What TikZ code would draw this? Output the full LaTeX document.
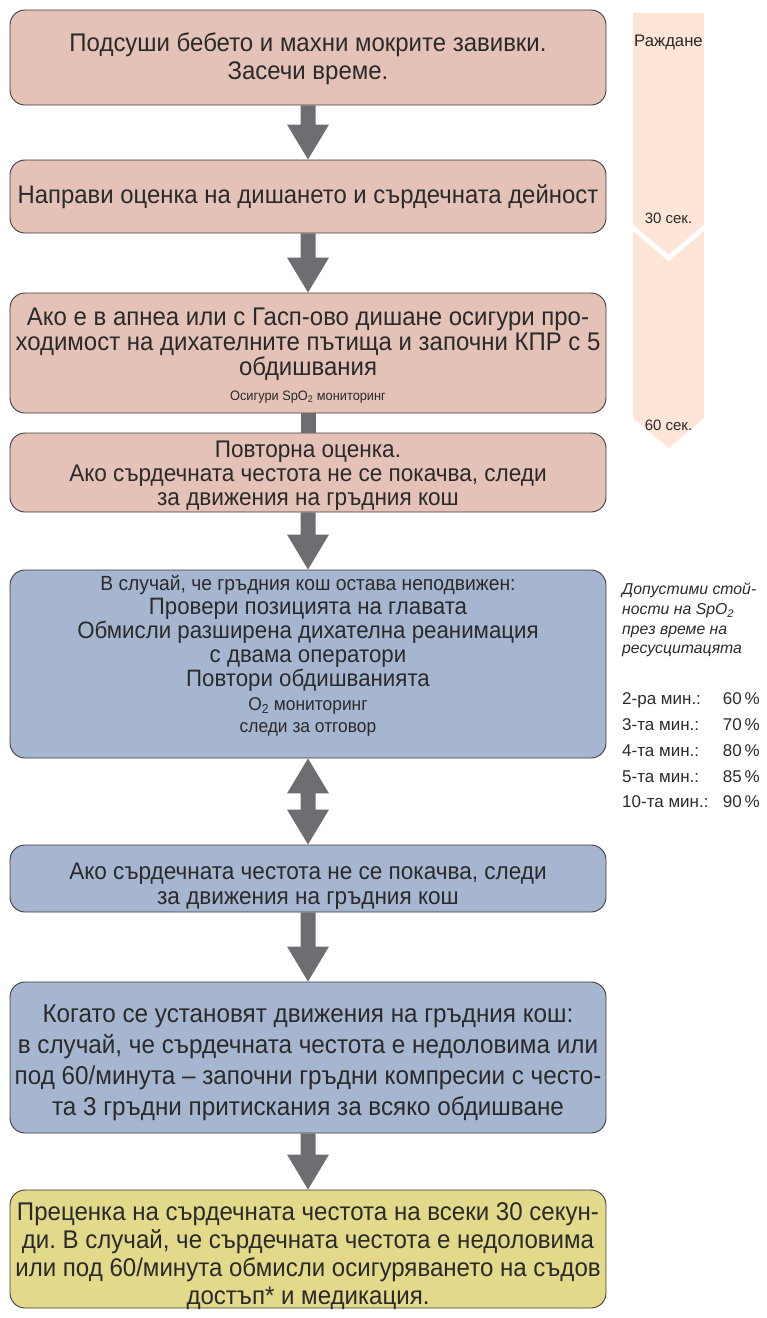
\documentclass[tikz,border=0pt]{standalone}
\usepackage{fontspec}
\setmainfont{Liberation Sans}
\newfontfamily\condf[FakeStretch=0.94]{Liberation Sans}
\usetikzlibrary{calc}
\frenchspacing
\definecolor{pinkbox}{HTML}{E4C2B7}
\definecolor{bluebox}{HTML}{A7B6D0}
\definecolor{yellowbox}{HTML}{E2D98B}
\definecolor{arrowgray}{HTML}{6D6E71}
\definecolor{bordercol}{HTML}{3C3C3C}
\definecolor{timecol}{HTML}{FDE5D7}
\definecolor{txtcol}{HTML}{2A2A2A}
\tikzset{
  flowbox/.style={draw=bordercol, line width=0.9pt, rounded corners=15pt, minimum width=596pt, inner sep=0pt},
  flowtext/.style={align=center, inner sep=0pt, text=txtcol},
  sidetext/.style={inner sep=0pt, text=txtcol, font=\fontsize{15}{18}\selectfont},
  tabtext/.style={inner sep=0pt, text=txtcol, font=\fontsize{17}{20}\selectfont},
}
\newcommand\flowarrow[2]{%
  \fill[arrowgray] ($(#1.south)+(-7.5,0)$) -- ($(#2.north)+(-7.5,-35)$) -- ($(#2.north)+(-21,-35)$) -- (#2.north) -- ($(#2.north)+(21,-35)$) -- ($(#2.north)+(7.5,-35)$) -- ($(#1.south)+(7.5,0)$) -- cycle;}
\begin{document}
\frenchspacing
\begin{tikzpicture}[x=1pt,y=-1pt]
\useasboundingbox (0,0) rectangle (767,1318);
% timeline
\fill[timecol] (633,13) -- (704,13) -- (704,418) -- (668.5,448) -- (633,418) -- cycle;
\draw[white, line width=5pt] (631,226) -- (668.5,258) -- (706,226);
\node[sidetext, font=\fontsize{16.7}{18}\selectfont] (tbirth) at (668.5,42) {Раждане};
\node[sidetext] (t30) at (668.5,218) {30 сек.};
\node[sidetext] (t60) at (668.5,425) {60 сек.};
% boxes
\node[flowbox, fill=pinkbox, minimum height=95pt] (b1) at (308,57.5) {};
\node[flowbox, fill=pinkbox, minimum height=73pt] (b2) at (308,196.5) {};
\node[flowbox, fill=pinkbox, minimum height=120pt] (b3) at (308,353) {};
\node[flowbox, fill=pinkbox, minimum height=79pt] (b4) at (308,472.5) {};
\node[flowbox, fill=bluebox, minimum height=188pt] (b5) at (308,664) {};
\node[flowbox, fill=bluebox, minimum height=67pt] (b6) at (308,878.5) {};
\node[flowbox, fill=bluebox, minimum height=151pt] (b7) at (308,1057.5) {};
\node[flowbox, fill=yellowbox, minimum height=118pt] (b8) at (308,1249) {};
% texts
\node[flowtext, font=\condf\fontsize{25.5}{28}\selectfont] (t1) at (308,59) {Подсуши бебето и махни мокрите завивки.\\Засечи време.};
\node[flowtext, font=\condf\fontsize{25.4}{28}\selectfont] (t2) at (308,197) {Направи оценка на дишането и сърдечната дейност};
\node[flowtext, font=\condf\fontsize{25.5}{25}\selectfont] (t3) at (308,355.5) {Ако е в апнеа или с Гасп-ово дишане осигури про-\\ходимост на дихателните пътища и започни КПР с 5\\обдишвания\\{\fontsize{13.6}{15}\selectfont Осигури SpO\textsubscript{2} мониторинг}};
\node[flowtext, font=\condf\fontsize{24}{24}\selectfont] (t4) at (308,476) {Повторна оценка.\\Ако сърдечната честота не се покачва, следи\\за движения на гръдния кош};
\node[flowtext, font=\condf\fontsize{23.7}{24}\selectfont] (t5) at (308,656) {{\fontsize{20.5}{20}\selectfont В случай, че гръдния кош остава неподвижен:}\\Провери позицията на главата\\Обмисли разширена дихателна реанимация\\с двама оператори\\Повтори обдишванията\\{\fontsize{18.5}{20}\selectfont O\textsubscript{2} мониторинг}\\[-2pt]{\fontsize{18.5}{20}\selectfont следи за отговор}};
\node[flowtext, font=\condf\fontsize{24}{25}\selectfont] (t6) at (308,886.5) {Ако сърдечната честота не се покачва, следи\\за движения на гръдния кош};
\node[flowtext, font=\condf\fontsize{25.8}{31}\selectfont] (t7) at (308,1063) {Когато се установят движения на гръдния кош:\\в случай, че сърдечната честота е недоловима или\\под 60/минута – започни гръдни компресии с често-\\та 3 гръдни притискания за всяко обдишване};
\node[flowtext, font=\condf\fontsize{25.6}{28}\selectfont] (t8) at (308,1256) {Преценка на сърдечната честота на всеки 30 секун-\\ди. В случай, че сърдечната честота е недоловима\\или под 60/минута обмисли осигуряването на съдов\\достъп* и медикация.};
% connectors
\flowarrow{b1}{b2}
\flowarrow{b2}{b3}
\fill[arrowgray] ($(b3.south)+(-7.5,0)$) rectangle ($(b4.north)+(7.5,0)$);
\flowarrow{b4}{b5}
\fill[arrowgray] (b5.south) -- ($(b5.south)+(21,35)$) -- ($(b5.south)+(7.5,35)$) -- ($(b6.north)+(7.5,-35)$) -- ($(b6.north)+(21,-35)$) -- (b6.north) -- ($(b6.north)+(-21,-35)$) -- ($(b6.north)+(-7.5,-35)$) -- ($(b5.south)+(-7.5,35)$) -- ($(b5.south)+(-21,35)$) -- cycle;
\flowarrow{b6}{b7}
\flowarrow{b7}{b8}
% SpO2 side text
\node[sidetext, anchor=north west, align=left, font=\itshape\fontsize{15.8}{19.7}\selectfont] (spo2) at (622,583) {Допустими стой-\\ности на SpO\textsubscript{2}\\през време на\\ресусцитацята};
\node[tabtext, anchor=base west] (m2) at (622,704) {2-ра мин.:};
\node[tabtext, anchor=base east] (v2) at (760,704) {60\,\%};
\node[tabtext, anchor=base west] (m3) at (622,730) {3-та мин.:};
\node[tabtext, anchor=base east] (v3) at (760,730) {70\,\%};
\node[tabtext, anchor=base west] (m4) at (622,756) {4-та мин.:};
\node[tabtext, anchor=base east] (v4) at (760,756) {80\,\%};
\node[tabtext, anchor=base west] (m5) at (622,782) {5-та мин.:};
\node[tabtext, anchor=base east] (v5) at (760,782) {85\,\%};
\node[tabtext, anchor=base west] (m10) at (622,807) {10-та мин.:};
\node[tabtext, anchor=base east] (v10) at (760,807) {90\,\%};
\end{tikzpicture}
\end{document}
